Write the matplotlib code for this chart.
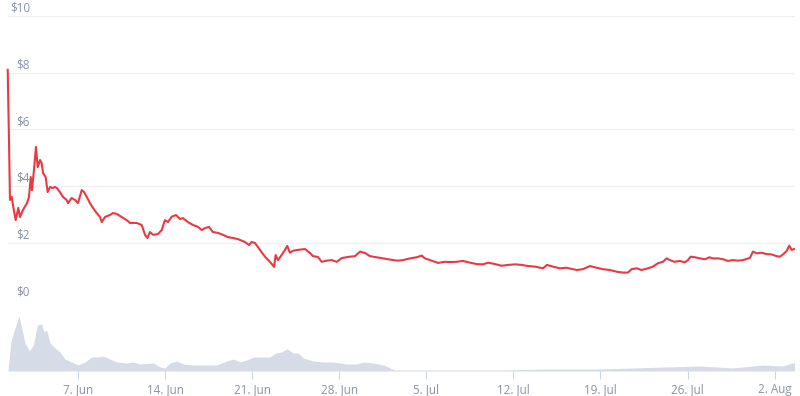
import datetime as dt

import matplotlib
matplotlib.use("Agg")
import matplotlib.pyplot as plt
import matplotlib.dates as mdates
from matplotlib.ticker import FuncFormatter
from matplotlib.transforms import blended_transform_factory

plt.rcParams["font.family"] = ["Open Sans", "DejaVu Sans"]

START = dt.datetime(2021, 6, 1)

# price: (days since 1 Jun, USD)
price_days = [
    0.35, 0.43, 0.48, 0.53, 0.67, 0.80, 0.99, 1.20, 1.34, 1.58, 1.90, 2.06,
    2.20, 2.30, 2.46, 2.62, 2.76, 2.95, 3.08, 3.19, 3.40, 3.56, 3.75, 3.97,
    4.15, 4.31, 4.55, 4.79, 5.09, 5.20, 5.49, 5.76, 6.00, 6.30, 6.48, 6.70,
    6.96, 7.21, 7.50, 7.77, 7.91, 8.17, 8.57, 8.81, 9.11, 9.51, 9.91, 10.18,
    10.72, 11.12, 11.39, 11.58, 11.79, 12.03, 12.43, 12.73, 12.99, 13.23,
    13.53, 13.88, 14.20, 14.44, 14.84, 15.24, 15.65, 15.94, 16.21, 16.53,
    16.85, 17.25, 17.66, 18.06, 18.46, 18.86, 19.42, 19.75, 19.96, 20.23,
    20.63, 21.03, 21.43, 21.76, 21.89, 22.08, 22.37, 22.64, 22.82, 23.04,
    23.28, 23.68, 24.25, 24.65, 24.89, 25.29, 25.59, 25.99, 26.39, 26.80,
    27.20, 27.70, 28.27, 28.67, 29.07, 29.47, 29.87, 30.28, 30.81, 31.32,
    31.72, 32.13, 32.69, 33.23, 33.63, 33.89, 34.43, 34.94, 35.50, 35.90,
    36.44, 36.95, 37.51, 38.05, 38.56, 38.96, 39.52, 40.06, 40.57, 41.13,
    41.67, 42.17, 42.74, 43.38, 43.70, 44.18, 44.75, 45.28, 45.69, 46.09,
    46.59, 47.16, 47.69, 48.20, 48.76, 49.30, 49.81, 50.21, 50.51, 50.91,
    51.31, 51.82, 52.22, 52.62, 53.02, 53.32, 53.59, 53.95, 54.39, 54.79,
    55.03, 55.25, 55.60, 56.00, 56.40, 56.75, 57.04, 57.44, 57.85, 58.25,
    58.65, 59.05, 59.46, 60.02, 60.26, 60.56, 60.96, 61.36, 61.76, 62.16,
    62.43, 62.67, 62.97, 63.18, 63.37, 63.56,
]
price_usd = [
    8.10, 6.23, 4.92, 3.51, 3.62, 3.26, 2.80, 3.23, 2.91, 3.16, 3.40, 3.62,
    4.32, 3.86, 4.57, 5.38, 4.67, 4.92, 4.81, 4.46, 4.32, 3.79, 3.97, 3.93,
    3.97, 3.93, 3.79, 3.62, 3.51, 3.40, 3.58, 3.51, 3.40, 3.86, 3.79, 3.62,
    3.40, 3.23, 3.05, 2.91, 2.73, 2.91, 2.98, 3.05, 3.02, 2.91, 2.80, 2.70,
    2.70, 2.63, 2.28, 2.17, 2.38, 2.28, 2.31, 2.45, 2.80, 2.73,
    2.92, 2.98, 2.84, 2.87, 2.73, 2.63, 2.56, 2.45, 2.52, 2.56,
    2.38, 2.35, 2.28, 2.20, 2.17, 2.13, 2.03, 1.92, 2.03, 1.99,
    1.75, 1.51, 1.33, 1.15, 1.57, 1.39, 1.57, 1.75, 1.89, 1.65,
    1.72, 1.75, 1.78, 1.64, 1.53, 1.50, 1.33, 1.37, 1.39, 1.33,
    1.46, 1.50, 1.53, 1.69, 1.64, 1.53, 1.50, 1.47, 1.43, 1.39,
    1.37, 1.39, 1.45, 1.49, 1.55, 1.45, 1.37, 1.29, 1.33, 1.32,
    1.33, 1.36, 1.30, 1.25, 1.24, 1.30, 1.25, 1.19, 1.22, 1.24,
    1.22, 1.18, 1.16, 1.10, 1.22, 1.16, 1.10, 1.12, 1.08, 1.04,
    1.07, 1.18, 1.12, 1.07, 1.04, 0.98, 0.95, 0.95, 1.07, 1.10,
    1.04, 1.10, 1.16, 1.28, 1.33, 1.45, 1.39, 1.33, 1.36, 1.31,
    1.39, 1.51, 1.49, 1.45, 1.42, 1.49, 1.45, 1.45, 1.42, 1.36,
    1.39, 1.37, 1.39, 1.47, 1.69, 1.63, 1.65, 1.60, 1.59, 1.53,
    1.51, 1.59, 1.71, 1.90, 1.75, 1.78,
]

# volume: (days since 1 Jun, relative volume)
volume_days = [
    0.37, 0.40, 0.59, 0.80, 1.26, 1.74, 2.09, 2.41, 2.73, 3.08, 3.27, 3.48,
    3.75, 4.15, 4.55, 4.95, 5.49, 6.00, 6.56, 7.10, 7.63, 8.03, 8.57, 9.11,
    9.91, 10.45, 10.98, 12.05, 12.59, 12.99, 13.40, 13.93, 14.46, 15.27,
    15.81, 17.15, 17.95, 18.49, 19.02, 19.56, 20.10, 20.90, 21.43, 21.91,
    22.37, 22.82, 23.30, 23.70, 24.11, 24.91, 25.72, 26.52, 27.60, 28.40,
    28.94, 29.74, 30.54, 31.08, 31.48, 35.90, 39.92, 43.94, 47.96, 50.61,
    53.35, 56.00, 58.65, 61.06, 62.67, 63.47, 63.60,
]
volume = [
    0, 4, 28, 38, 55, 28, 20, 26, 46, 47, 39, 41,
    28, 23, 19, 12, 9, 6, 9, 14, 14, 15, 12, 9,
    8, 9, 7, 8, 4, 3, 8, 10, 7, 6,
    6, 6, 10, 12, 9, 11, 14, 14, 14, 18,
    19, 22, 18, 18, 13, 10, 9, 9, 7, 7,
    9, 8, 6, 3, 1, 1, 1, 2, 2, 3,
    4, 5, 3, 6, 5, 8, 8,
]


def to_num(days):
    return [mdates.date2num(START + dt.timedelta(days=d)) for d in days]


W, H = 800, 396
fig = plt.figure(figsize=(W / 100, H / 100), dpi=100, facecolor="white")

x0, x1 = 8, 795
xlim = to_num([0.373, 63.64])

# ── price panel ─────────────────────────────────────────────
ax = fig.add_axes([x0 / W, 1 - 299.5 / H, (x1 - x0) / W, (299.5 - 16) / H])
ax.plot(to_num(price_days), price_usd, color="#ea3943", lw=1.5,
        solid_joinstyle="round", clip_on=False, zorder=3)
ax.set_xlim(xlim)
ax.set_ylim(0, 10)
for s in ax.spines.values():
    s.set_visible(False)
ax.set_xticks([])
ax.set_yticks([])
trans = blended_transform_factory(ax.transAxes, ax.transData)
for v in range(0, 11, 2):
    ax.axhline(v, color="#eff1f4", lw=1, zorder=1)
    ax.text(22 / (x1 - x0), v + 0.04, f"${v}", transform=trans,
            ha="right", va="bottom", fontsize=8.4, color="#8a92a6")

# ── volume panel ────────────────────────────────────────────
axv = fig.add_axes([x0 / W, 1 - 371 / H, (x1 - x0) / W, 60 / H])
axv.fill_between(to_num(volume_days), volume, 0, color="#d5dbe7", lw=0)
axv.set_xlim(xlim)
axv.set_ylim(0, 60)
for s in axv.spines.values():
    s.set_visible(False)
axv.set_yticks([])
axv.xaxis.set_major_locator(mdates.WeekdayLocator(byweekday=mdates.MO))
axv.xaxis.set_major_formatter(FuncFormatter(
    lambda x, pos: f"{mdates.num2date(x).day}. {mdates.num2date(x):%b}"))
axv.tick_params(axis="x", length=6, width=0.8, color="#ccd6eb",
                labelsize=8.4, labelcolor="#8a92a6", pad=3)

fig.savefig("out.png", dpi=100, facecolor="white")
